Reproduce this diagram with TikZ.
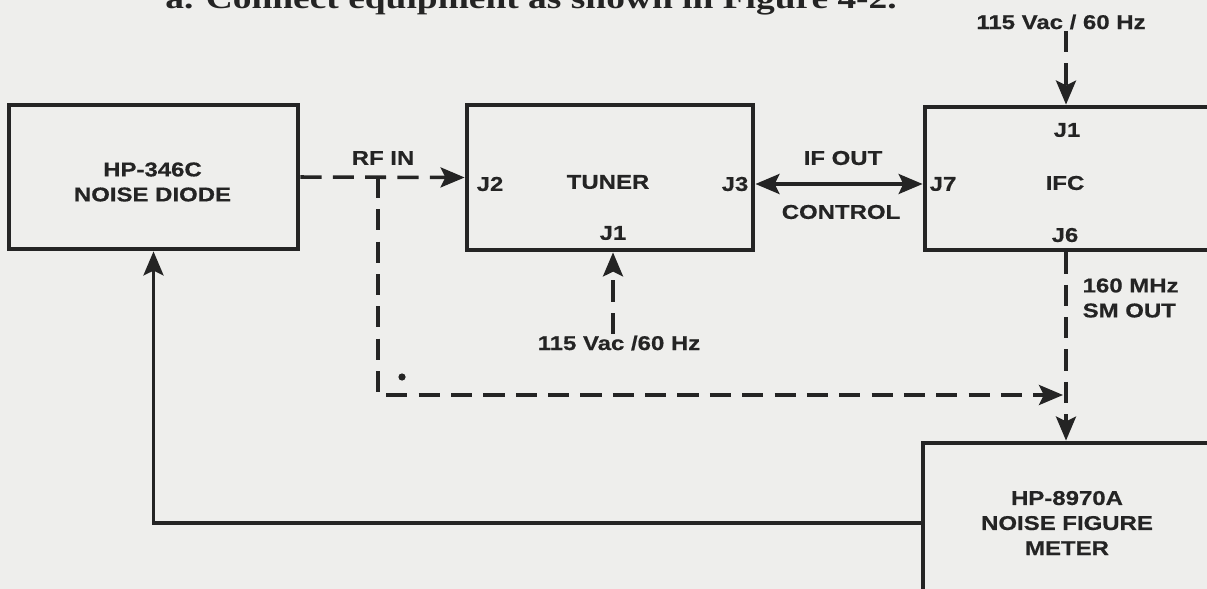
\documentclass[tikz,border=0pt]{standalone}
\usepackage{fontspec}
\newfontfamily\labelfont[FakeStretch=1.2,FakeBold=0.6]{Liberation Sans}
\newfontfamily\pagefont[FakeStretch=1.25]{Liberation Serif}
\usetikzlibrary{arrows.meta,positioning,calc}
\definecolor{paper}{RGB}{238,238,236}
\definecolor{ink}{RGB}{36,36,36}

\begin{document}
\begin{tikzpicture}[x=0.025cm,y=-0.025cm,
  >={Stealth[length=0.6cm,width=0.5cm,inset=0.12cm]},
  box/.style={draw=ink,line width=3.4pt,inner sep=0pt},
  lbl/.style={text=ink,font=\labelfont\bfseries\fontsize{14.2}{17.8}\selectfont,align=center,inner sep=1pt},
  ar/.style={->,draw=ink,line width=2.5pt},
  dashline/.style={ar,dash pattern=on 15pt off 8pt}]

  \useasboundingbox (0,0) rectangle (1207,589);
  \fill[paper] (0,0) rectangle (1207,589);
  \clip (0,0) rectangle (1207,589);

  \node[anchor=base west,inner sep=0pt,text=ink,font=\pagefont\bfseries\fontsize{21.3}{24}\selectfont] (instr) at (165,9) {a. Connect equipment as shown in Figure 4-2.};

  % boxes
  \node[box,minimum width=7.225cm,minimum height=3.6cm] (diode) at (153.5,177) {};
  \node[lbl] (diodetxt) at (152.5,182) {HP-346C\\NOISE DIODE};

  \node[box,minimum width=7.15cm,minimum height=3.625cm] (tuner) at (610,177.5) {};
  \node[lbl] (tunertxt) at (608,182) {TUNER};
  \node[lbl] (tj2) at (490,184) {J2};
  \node[lbl] (tj3) at (735,184) {J3};
  \node[lbl] (tj1) at (613,233) {J1};

  \node[box,minimum width=7.25cm,minimum height=3.575cm] (ifc) at (1070,178.5) {};
  \node[lbl] (ifctxt) at (1065,183) {IFC};
  \node[lbl] (ij1) at (1067,130) {J1};
  \node[lbl] (ij7) at (943,184) {J7};
  \node[lbl] (ij6) at (1065,235) {J6};

  \node[box,minimum width=7.3cm,minimum height=5.175cm] (meter) at (1069,546.5) {};
  \node[lbl] (metertxt) at (1067,523) {HP-8970A\\NOISE FIGURE\\METER};

  % connector labels
  \node[lbl] (rfin) at (383,158) {RF IN};
  \node[lbl] (ifout) at (843,158) {IF OUT};
  \node[lbl] (ctrl) at (841,212) {CONTROL};
  \node[lbl] (tpwr) at (619,343) {115 Vac /60 Hz};
  \node[lbl] (ipwr) at (1061,22) {115 Vac / 60 Hz};
  \node[lbl,align=left,anchor=west] (smout) at (1081,298) {160 MHz\\SM OUT};
  \node[circle,fill=ink,inner sep=0pt,minimum size=0.18cm] (mark1) at (402,377) {};

  \coordinate (tee) at (378,177);
  \coordinate (tap) at (1063,395);
  \coordinate (smx) at (1066,0);

  % connections
  \draw[dashline] (diode.east) -- (tuner.west);
  \draw[dashline] (tee) |- (tap);
  \draw[dashline] (tpwr.north -| tj1) -- (tuner.south -| tj1);
  \draw[dashline] (ipwr.south -| smx) -- (ifc.north -| smx);
  \draw[ar,<->] (tuner.east |- tj3) -- (ifc.west |- ij7);
  \draw[dashline] (ifc.south -| smx) -- (meter.north -| smx);
  \draw[ar] (meter.west |- metertxt) -| (diode.south);
\end{tikzpicture}
\end{document}
